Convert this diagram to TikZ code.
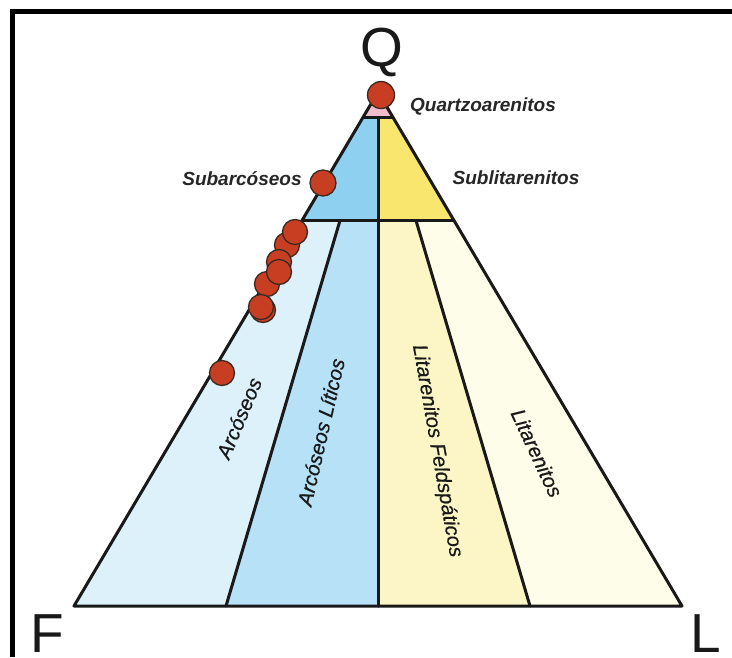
\documentclass[tikz,border=0pt]{standalone}
\usepackage{fontspec}
\setmainfont{Liberation Sans}
\newfontfamily\labfont[FakeBold=0.7,ItalicFeatures={FakeBold=0.7}]{Liberation Sans}
\usetikzlibrary{calc}
\definecolor{pinkq}{HTML}{F2BCCB}
\definecolor{subA}{HTML}{8ED0F0}
\definecolor{subL}{HTML}{F8E66E}
\definecolor{arcC}{HTML}{DDF1FB}
\definecolor{arcL}{HTML}{B6E1F6}
\definecolor{litF}{HTML}{FCF6C6}
\definecolor{litC}{HTML}{FEFDE9}
\definecolor{dotred}{HTML}{C83E23}
\definecolor{dotedge}{HTML}{3A2A22}
\tikzset{
  edge/.style={line width=3pt, line join=round, line cap=round, black!90},
  dot/.style={circle, fill=dotred, draw=dotedge, line width=1.3pt, minimum size=25pt, inner sep=0pt},
  bigdot/.style={dot, minimum size=27pt},
  blab/.style={font=\fontsize{19}{22}\selectfont\bfseries\itshape, text=black!85, inner sep=0pt},
  rlab/.style={font=\labfont\fontsize{20.5}{24}\selectfont\itshape, text=black!90, inner sep=0pt},
  vlab/.style={font=\fontsize{55}{60}\selectfont, text=black!90, inner sep=0pt},
  frame/.style={line width=5pt, black}
}
\begin{document}
\begin{tikzpicture}[x=1pt,y=-1pt]
\useasboundingbox (0,0) rectangle (732,657);
% frame
\draw[frame] (12,657) -- (12,11) -- (732,11);
% vertices
\coordinate (Q) at (378,92);
\coordinate (F) at (74,606);
\coordinate (L) at (682,606);
\coordinate (M) at ($(F)!0.5!(L)$);
\coordinate (B1) at ($(F)!0.25!(L)$);
\coordinate (B2) at ($(F)!0.75!(L)$);
\coordinate (a1) at ($(Q)!0.05!(F)$);
\coordinate (a2) at ($(Q)!0.05!(L)$);
\coordinate (am) at ($(Q)!0.05!(M)$);
\coordinate (c1) at ($(Q)!0.25!(F)$);
\coordinate (c2) at ($(Q)!0.25!(L)$);
\coordinate (cm) at ($(Q)!0.25!(M)$);
\coordinate (d1) at ($(Q)!0.25!(B1)$);
\coordinate (d2) at ($(Q)!0.25!(B2)$);
% fills
\fill[pinkq] (Q) -- (a1) -- (a2) -- cycle;
\fill[subA] (a1) -- (am) -- (cm) -- (c1) -- cycle;
\fill[subL] (am) -- (a2) -- (c2) -- (cm) -- cycle;
\fill[arcC] (c1) -- (d1) -- (B1) -- (F) -- cycle;
\fill[arcL] (d1) -- (cm) -- (M) -- (B1) -- cycle;
\fill[litF] (cm) -- (d2) -- (B2) -- (M) -- cycle;
\fill[litC] (d2) -- (c2) -- (L) -- (B2) -- cycle;
% lines
\draw[edge] (Q) -- (F) -- (L) -- cycle;
\draw[edge] (a1) -- (a2);
\draw[edge] (c1) -- (c2);
\draw[edge] (am) -- (M);
\draw[edge] (d1) -- (B1);
\draw[edge] (d2) -- (B2);
% vertex labels
\node[vlab, anchor=base] (lQ) at (382,66) {Q};
\node[vlab, anchor=base] (lF) at (47,652) {F};
\node[vlab, anchor=base] (lL) at (706,652) {L};
% field labels
\node[blab, anchor=base] (tQa) at (483,111) {Quartzoarenitos};
\node[blab, anchor=base] (tSa) at (242,185) {Subarcóseos};
\node[blab, anchor=base] (tSl) at (516,184) {Sublitarenitos};
\node[rlab, rotate=67] (tAr) at (239,418) {Arcóseos};
\node[rlab, rotate=77] (tAl) at (321,432) {Arcóseos Líticos};
\node[rlab, rotate=-80] (tLf) at (437,451) {Litarenitos Feldspáticos};
\node[rlab, rotate=-65] (tLi) at (537,453) {Litarenitos};
% sample dots
\node[bigdot] (p0) at (381,95) {};
\node[dot, minimum size=26pt] (p1) at (323,183) {};
\node[dot] (e2) at (287,245) {};
\node[dot] (e1) at (295,232) {};
\node[dot] (e3) at (279,262) {};
\node[dot] (e5) at (267,284) {};
\node[dot] (e4) at (279,272) {};
\node[dot] (e6b) at (263,310) {};
\node[dot] (e6) at (261,307) {};
\node[dot] (e7) at (222,373) {};
\end{tikzpicture}
\end{document}
